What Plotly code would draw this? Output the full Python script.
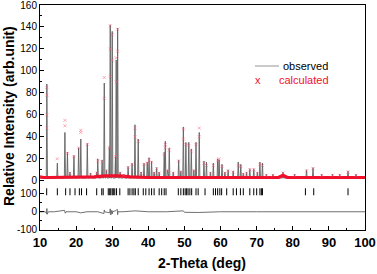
import plotly.graph_objects as go

# ---------------- data ----------------
# observed peaks: 2-theta position, observed intensity, calculated intensity
peak_pos = [11.9, 14.8, 16.9, 17.6, 18.3, 19.4, 20.7, 21.3, 23.1, 24.0, 25.7, 26.0, 27.2, 27.8,
            28.4, 29.2, 29.45, 30.0, 30.9, 31.1, 31.5, 32.2, 33.2, 34.4, 35.5, 36.3, 37.2, 38.0,
            38.8, 39.7, 40.2, 40.9, 41.6, 42.3, 43.0, 44.4, 44.7, 45.3, 45.8, 46.9, 48.4, 49.0,
            49.7, 50.4, 51.2, 51.9, 52.6, 53.2, 54.1, 55.4, 56.1, 57.2, 58.0, 59.2, 59.6, 60.4,
            61.2, 62.1, 63.5, 64.9, 65.6, 66.3, 67.2, 68.1, 69.2, 70.2, 70.9, 71.6, 72.7, 74.5,
            77.3, 80.5, 83.8, 85.6, 88.0, 91.0, 93.0, 95.3, 97.5]
obs_int = [88, 16, 44, 26, 8, 23, 30, 38, 34, 7, 8, 20, 19, 89,
           10, 31, 142, 136, 22, 110, 139, 8, 6, 13, 16, 51, 38, 8,
           16, 17, 21, 18, 8, 12, 8, 26, 36, 10, 30, 8, 19, 9,
           49, 35, 35, 29, 10, 35, 44, 18, 17, 8, 16, 20, 19, 15,
           8, 10, 9, 17, 15, 7, 8, 11, 11, 8, 17, 16, 6, 6,
           8, 6, 10, 12, 6, 6, 6, 9, 6]
calc_int = [85, 20, 55, 25, 7, 22, 30, 46, 33, 6, 7, 18, 17, 94,
            9, 30, 141, 133, 22, 112, 138, 7, 5, 12, 15, 48, 36, 7,
            15, 16, 19, 17, 7, 11, 7, 24, 33, 9, 28, 7, 18, 8,
            47, 33, 32, 27, 9, 33, 48, 16, 14, 7, 14, 18, 20, 13,
            7, 9, 8, 14, 13, 6, 7, 10, 10, 7, 15, 14, 5, 5,
            7, 5, 9, 11, 5, 5, 5, 8, 5]
obs_baseline = 2.5

# extra calculated points visible on peak flanks
calc_extra_x = [11.9, 11.9, 11.9, 16.9, 21.3, 27.8, 29.45, 29.45, 30.0, 31.5, 31.1, 36.3, 54.1, 49.7, 44.7]
calc_extra_y = [78, 60, 48, 50, 44, 75, 120, 95, 110, 118, 90, 40, 40, 38, 30]

# calculated background (thick red band)
bg_x = [10, 11, 12.5, 15, 20, 25, 28, 32, 35, 40, 50, 60, 70, 76, 77.3, 78.5, 80, 90, 100]
bg_y = [3.5, 3, 3, 3, 3.5, 3.5, 4.5, 4.5, 3.5, 3, 3, 3, 3, 3, 5, 3, 3, 3, 3]

# Bragg reflection positions
bragg_pos = [11.85, 14.8, 17.1, 18.3, 19.7, 20.9, 21.5, 22.9, 25.7, 27.1, 27.5, 28.9, 29.3, 29.6,
             30.0, 30.3, 30.7, 31.2, 32.1, 34.4, 34.9, 35.5, 36.0, 36.4, 37.2, 38.6, 39.3, 40.2,
             40.9, 41.6, 43.0, 43.7, 44.4, 44.9, 48.3, 49.0, 49.7, 50.2, 50.6, 51.0, 51.5, 52.0,
             53.2, 53.8, 55.7, 58.0, 58.6, 59.2, 59.8, 60.3, 61.7, 63.5, 64.4, 65.5, 66.3, 68.1,
             69.2, 70.0, 70.9, 71.3, 71.6, 83.5, 85.8, 95.3]

# difference curve (obs - calc), lower-scale units
diff_x = [10, 11.5, 11.8, 11.9, 12.0, 12.3, 14, 16.8, 17.0, 17.2, 20, 21.3, 23, 26, 27.7, 27.8,
          27.9, 29.3, 29.45, 29.6, 29.9, 30.0, 30.1, 31.0, 31.4, 31.5, 31.6, 33, 36.3, 40, 45,
          49.7, 50, 54, 60, 70, 80, 90, 100]
diff_y = [0, 0, -10, 18, -14, 0, 0, 8, -8, 0, 0, -6, 0, 0, -10, 10,
          0, -6, 16, -18, 8, -12, 0, 6, 14, -16, 0, 0, 5, 0, 0,
          5, -3, -4, 0, 0, 0, 0, 0]

# y tick labels
upper_ticks = [0, 20, 40, 60, 80, 100, 120, 140, 160]
lower_tick_vals = [100, 0, -100]
x_ticks = [10, 20, 30, 40, 50, 60, 70, 80, 90, 100]

# ---------------- mapping of the stacked lower panel ----------------
LOWER_ZERO = -28.2     # display position of lower-scale 0
LOWER_SCALE = 0.164    # display units per lower-scale unit
BRAGG_LEVEL = -10
HW = 0.16              # drawn half-width of a peak (deg)

def lower(v):
    return LOWER_ZERO + v * LOWER_SCALE

# observed polyline from peak list
ox, oy = [10], [obs_baseline]
for p, h in zip(peak_pos, obs_int):
    ox += [p - HW, p, p + HW]
    oy += [obs_baseline, h, obs_baseline]
ox.append(100); oy.append(obs_baseline)

RED = "#f0102c"
FONT = "Arial, Liberation Sans, sans-serif"

fig = go.Figure()
fig.add_trace(go.Scatter(x=ox, y=oy, mode="lines", line=dict(color="#606060", width=0.9),
                         showlegend=False, hoverinfo="skip"))
fig.add_trace(go.Scatter(x=bg_x, y=bg_y, mode="lines", line=dict(color=RED, width=3.2),
                         showlegend=False, hoverinfo="skip"))
fig.add_trace(go.Scatter(x=peak_pos + calc_extra_x, y=calc_int + calc_extra_y, mode="markers",
                         marker=dict(symbol="x-thin", size=3, line=dict(color="rgba(255,90,120,0.5)", width=1)),
                         showlegend=False, hoverinfo="skip"))
fig.add_trace(go.Scatter(x=bragg_pos, y=[BRAGG_LEVEL] * len(bragg_pos), mode="markers",
                         marker=dict(symbol="line-ns", size=5, line=dict(color="black", width=1)),
                         showlegend=False, hoverinfo="skip"))
fig.add_trace(go.Scatter(x=diff_x, y=[lower(v) for v in diff_y], mode="lines",
                         line=dict(color="#606060", width=0.9), showlegend=False, hoverinfo="skip"))

tickvals = upper_ticks + [lower(v) for v in lower_tick_vals]
ticktext = [str(v) for v in upper_ticks] + [str(v) for v in lower_tick_vals]
minor_y = [10, 30, 50, 70, 90, 110, 130, 150, lower(50), lower(-50)]

fig.update_layout(
    width=377, height=274,
    margin=dict(l=40, r=12, t=5, b=44),
    paper_bgcolor="white", plot_bgcolor="white",
    font=dict(family=FONT, color="black"),
    xaxis=dict(range=[10, 100], tickvals=x_ticks, ticks="inside", ticklen=4, tickcolor="black",
               showline=True, linecolor="black", linewidth=1, mirror=True, showgrid=False,
               zeroline=False, tickfont=dict(size=13, weight="bold"), automargin=False,
               ticklabeloverflow="allow",
               minor=dict(tickvals=[15, 25, 35, 45, 55, 65, 75, 85, 95], ticks="inside",
                          ticklen=2, tickcolor="black")),
    yaxis=dict(range=[-44.8, 160], tickvals=tickvals, ticktext=ticktext, ticks="inside",
               ticklen=4, tickcolor="black", showline=True, linecolor="black", linewidth=1,
               mirror=True, showgrid=False, zeroline=False, tickfont=dict(size=10),
               automargin=False, ticklabeloverflow="allow",
               minor=dict(tickvals=minor_y, ticks="inside", ticklen=2, tickcolor="black")),
    showlegend=False,
)

def px(xp):
    return (xp - 40) / 325.0

def py(yp):
    return (230 - yp) / 225.0

fig.add_annotation(text="Relative Intensity (arb.unit)", xref="paper", yref="paper",
                   x=px(9), y=py(116), textangle=-90, showarrow=False,
                   font=dict(size=14, weight="bold"), xanchor="center", yanchor="middle")
fig.add_annotation(text="2-Theta (deg)", xref="paper", yref="paper",
                   x=px(202), y=py(263), showarrow=False,
                   font=dict(size=14, weight="bold"), xanchor="center", yanchor="middle")
# legend
fig.add_shape(type="line", xref="paper", yref="paper", x0=px(255), x1=px(279), y0=py(66), y1=py(66),
              line=dict(color="#b8b8b8", width=1.5))
fig.add_annotation(text="observed", xref="paper", yref="paper", x=px(281), y=py(66),
                   showarrow=False, xanchor="left", yanchor="middle", font=dict(size=11))
fig.add_annotation(text="x", xref="paper", yref="paper", x=px(258), y=py(79.5),
                   showarrow=False, xanchor="center", yanchor="middle", font=dict(size=11, color=RED))
fig.add_annotation(text="calculated", xref="paper", yref="paper", x=px(277), y=py(79.5),
                   showarrow=False, xanchor="left", yanchor="middle", font=dict(size=11, color=RED))

fig.write_html("out.html", config={"displayModeBar": False},
               post_script="document.documentElement.style.margin='0';document.body.style.margin='0';"
                           "document.body.style.padding='0';window.scrollTo(0,0);")
